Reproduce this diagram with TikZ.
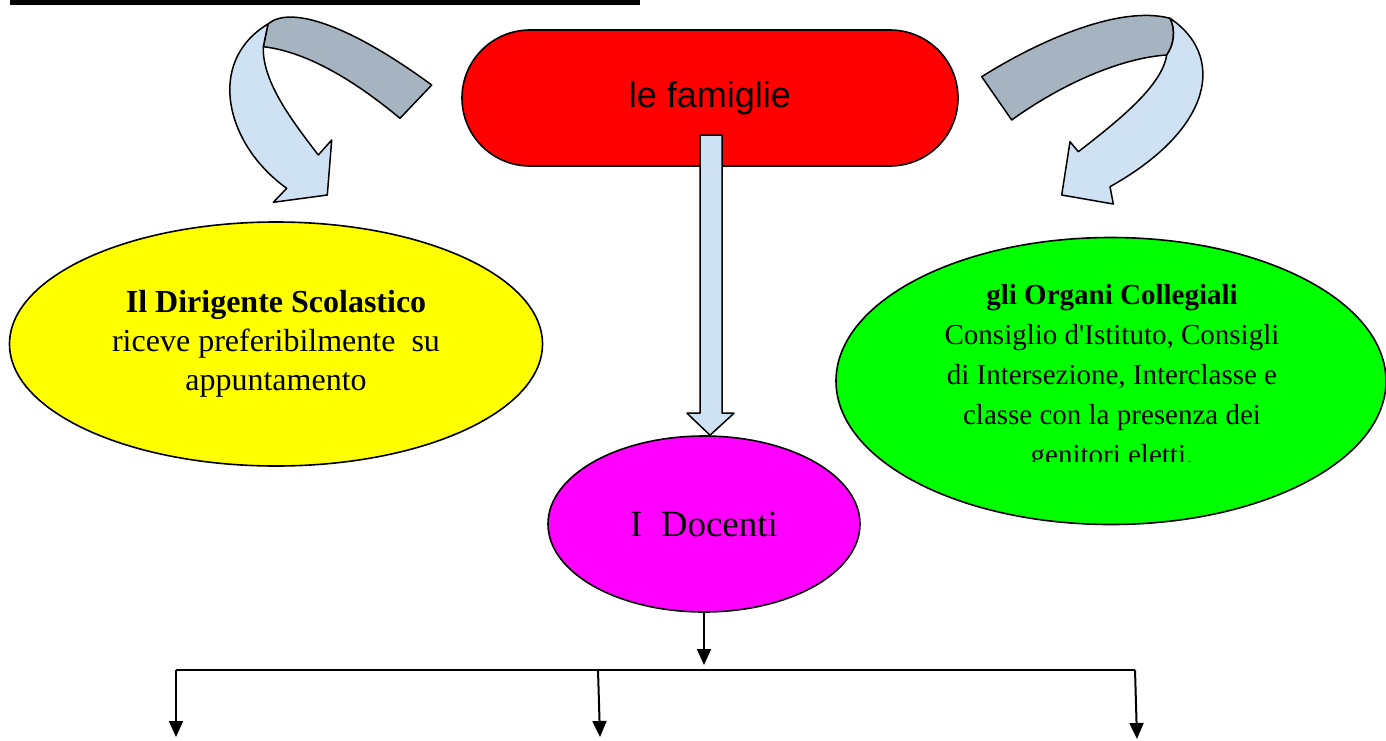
\documentclass[tikz,border=0pt]{standalone}
\usepackage{fontspec}
\setmainfont{Liberation Serif}
\newfontfamily\arialfont{Liberation Sans}
\usetikzlibrary{arrows.meta,shapes.geometric,calc}
\definecolor{arrowgray}{RGB}{166,180,193}
\definecolor{arrowblue}{RGB}{207,226,243}
\definecolor{rosso}{RGB}{255,0,0}
\definecolor{giallo}{RGB}{255,255,0}
\definecolor{verde}{RGB}{0,255,0}
\definecolor{fucsia}{RGB}{255,0,255}

\begin{document}
\begin{tikzpicture}[
		x=1pt, y=-1pt,
		bubble/.style={ellipse, draw, line width=1.6pt, inner sep=0pt},
		ribbonback/.style={draw, line width=1.5pt, fill=arrowgray, line join=round},
		ribbonfront/.style={draw, line width=1.5pt, fill=arrowblue, line join=round},
		branch/.style={-{Triangle[length=16pt,width=14pt]}, line width=2pt}
	]
	\useasboundingbox (0,0) rectangle (1386,740);
	\fill (10,0) rectangle (640,5);

	\node[draw, fill=rosso, rounded corners=68pt, minimum width=496, minimum height=136,
		line width=1.6pt, font=\arialfont\fontsize{36}{43}\selectfont] (famiglie) at (710,98) {le famiglie};

	\node[bubble, fill=giallo, minimum width=533, minimum height=244, align=center,
		font=\fontsize{32}{39}\selectfont] (dirigente) at (276,344)
		{\textbf{Il Dirigente Scolastico}\\ riceve preferibilmente\ \ su\\ appuntamento};

	\node[bubble, fill=verde, minimum width=550, minimum height=287] (organi) at (1111,381) {};
	\begin{scope}
		\clip (836,238) rectangle (1386,461);
		\node[align=center, font=\fontsize{29}{40}\selectfont] (organitesto) at (1112,378)
			{\textbf{gli Organi Collegiali}\\ Consiglio d\textquotesingle Istituto, Consigli\\
			di Intersezione, Interclasse e\\ classe con la presenza dei\\ genitori eletti.};
	\end{scope}

	\node[bubble, fill=fucsia, minimum width=312, minimum height=176,
		font=\fontsize{37}{44}\selectfont] (docenti) at (704,524) {I\ \ Docenti};

	% freccia centrale
	\draw[ribbonfront] (docenti.north -| famiglie.south) -- ++(24,-22) -- ++(-12,0) -- ++(0,-278)
		-- ++(-22,0) -- ++(0,278) -- ++(-13,0) -- cycle;

	% frecce curve
	\draw[ribbonback] (268,24) .. controls (290,5) and (350,25) .. (431.7,85) -- (400,118.3)
		.. controls (360,85) and (310,52) .. (263.3,46.7) -- cycle;
	\draw[ribbonfront] (268,24) .. controls (205,62) and (226,145) .. (286.7,188.3) -- (273.3,202.3)
		-- (327.3,195) -- (331.7,140) -- (318.3,155) .. controls (293,122) and (262,82) .. (263.3,46.7) -- cycle;
	\draw[ribbonback] (981.7,76.7) .. controls (1040,40) and (1120,5) .. (1170,18.3)
		.. controls (1176,30) and (1174,45) .. (1166.7,55)
		.. controls (1120,58) and (1060,85) .. (1011.7,120) -- cycle;
	\draw[ribbonfront] (1170,18.3) .. controls (1225,55) and (1215,128) .. (1110,186.7) -- (1113.3,204)
		-- (1061.7,195) -- (1070,141.7) -- (1078.3,151.7) .. controls (1122,118) and (1162,85) .. (1166.7,55)
		.. controls (1174,45) and (1176,30) .. (1170,18.3) -- cycle;

	\coordinate (hub) at (704,670);
	\coordinate (sinistra) at (176,670);
	\coordinate (centro) at (598,670);
	\coordinate (destra) at (1135,670);
	\coordinate (finesinistra) at (176,737);
	\coordinate (finecentro) at (600,737);
	\coordinate (finedestra) at (1137,739);

	\draw[branch] (docenti.south) -- ([yshift=5pt]hub);
	\draw[line width=2pt] (sinistra) -- (destra);
	\draw[branch] (sinistra) -- (finesinistra);
	\draw[branch] (centro) -- (finecentro);
	\draw[branch] (destra) -- (finedestra);
\end{tikzpicture}
\end{document}
